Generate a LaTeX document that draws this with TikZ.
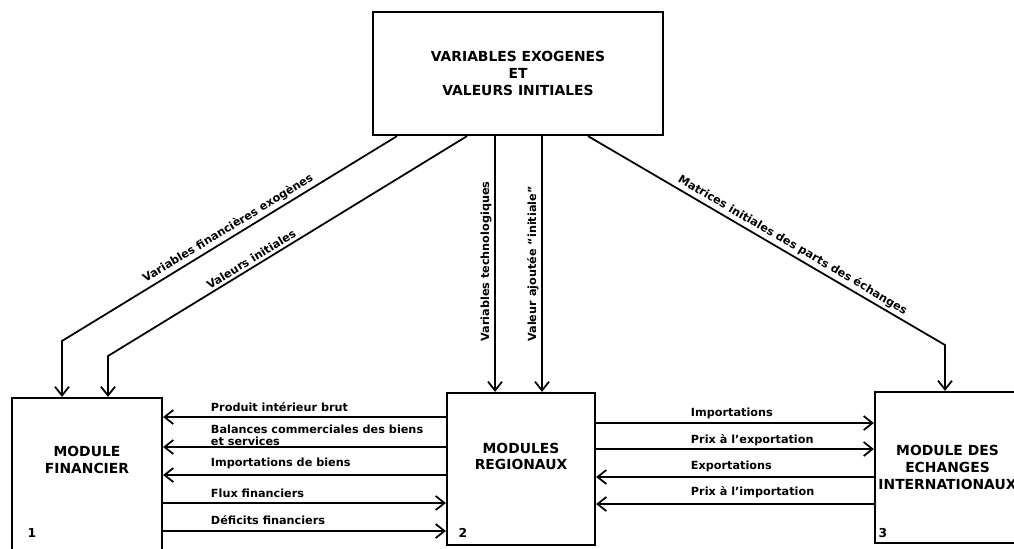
\documentclass[tikz,border=0pt]{standalone}
\usepackage{fontspec}
\setmainfont{DejaVu Sans}
\usetikzlibrary{arrows.meta}

\begin{document}
\begin{tikzpicture}[x=0.02cm, y=-0.02cm,
  box/.style={draw, line width=1.3pt, inner sep=0pt, align=center, font=\fontsize{7.9}{9.5}\selectfont\bfseries},
  flow/.style={line width=1pt, -{Straight Barb[length=5pt, width=8pt, line width=1pt]}},
  lbl/.style={font=\fontsize{6.4}{6.8}\selectfont\bfseries, inner sep=1.5pt}]

\useasboundingbox (0,0) rectangle (1014,548);

% Boxes: exogenous data on top, three modules below
\node[box, minimum width=5.8cm, minimum height=2.46cm] (exo) at (518,73.5) {VARIABLES EXOGENES\\ET\\VALEURS INITIALES};
\node[box, minimum width=3.0cm, minimum height=3.08cm] (fin) at (87,475) {MODULE\\FINANCIER\\[8pt]};
\node[box, minimum width=2.96cm, minimum height=3.04cm] (reg) at (521,469) {MODULES\\REGIONAUX\\[5pt]};
\node[box, minimum width=2.9cm, minimum height=3.02cm] (ech) at (947.5,467.5) {MODULE DES\\ECHANGES\\INTERNATIONAUX};

\node[lbl, font=\fontsize{7}{8}\selectfont\bfseries] (n1) at (32,533) {1};
\node[lbl, font=\fontsize{7}{8}\selectfont\bfseries] (n2) at (463,533) {2};
\node[lbl, font=\fontsize{7}{8}\selectfont\bfseries] (n3) at (883,533) {3};

% From the top box
\draw[flow] (exo.south -| 397,0) -- node[lbl, sloped, above, pos=0.49] {Variables financières exogènes} (62,341) -- (fin.north -| 62,0);
\draw[flow] (exo.south -| 467,0) -- node[lbl, sloped, above, pos=0.59] {Valeurs initiales} (108,356) -- (fin.north -| 108,0);
\draw[flow] (exo.south -| 495,0) -- node[lbl, rotate=90, anchor=south, pos=0.49] {Variables technologiques} (reg.north -| 495,0);
\draw[flow] (exo.south -| 542,0) -- node[lbl, rotate=90, anchor=south, pos=0.5] {Valeur ajoutée ``initiale''} (reg.north -| 542,0);
\draw[flow] (exo.south -| 588,0) -- node[lbl, sloped, above, pos=0.56] {Matrices initiales des parts des échanges} (945,345) -- (ech.north -| 945,0);

% Between module 1 and module 2
\draw[flow] (reg.west |- 0,417) -- (fin.east |- 0,417);
\draw[flow] (reg.west |- 0,447) -- (fin.east |- 0,447);
\draw[flow] (reg.west |- 0,475) -- (fin.east |- 0,475);
\draw[flow] (fin.east |- 0,503) -- (reg.west |- 0,503);
\draw[flow] (fin.east |- 0,531) -- (reg.west |- 0,531);
\node[lbl, anchor=west] (pib) at (208,407) {Produit intérieur brut};
\node[lbl, anchor=west, align=left] (bal) at (208,435) {Balances commerciales des biens\\et services};
\node[lbl, anchor=west] (impb) at (208,463) {Importations de biens};
\node[lbl, anchor=west] (flux) at (208,493) {Flux financiers};
\node[lbl, anchor=west] (def) at (208,520) {Déficits financiers};

% Between module 2 and module 3
\draw[flow] (reg.east |- 0,423) -- (ech.west |- 0,423);
\draw[flow] (reg.east |- 0,449) -- (ech.west |- 0,449);
\draw[flow] (ech.west |- 0,477) -- (reg.east |- 0,477);
\draw[flow] (ech.west |- 0,504) -- (reg.east |- 0,504);
\node[lbl, anchor=west] (imp) at (688,413) {Importations};
\node[lbl, anchor=west] (pexp) at (688,440) {Prix à l'exportation};
\node[lbl, anchor=west] (exp) at (688,466) {Exportations};
\node[lbl, anchor=west] (pimp) at (688,492) {Prix à l'importation};

\end{tikzpicture}
\end{document}
